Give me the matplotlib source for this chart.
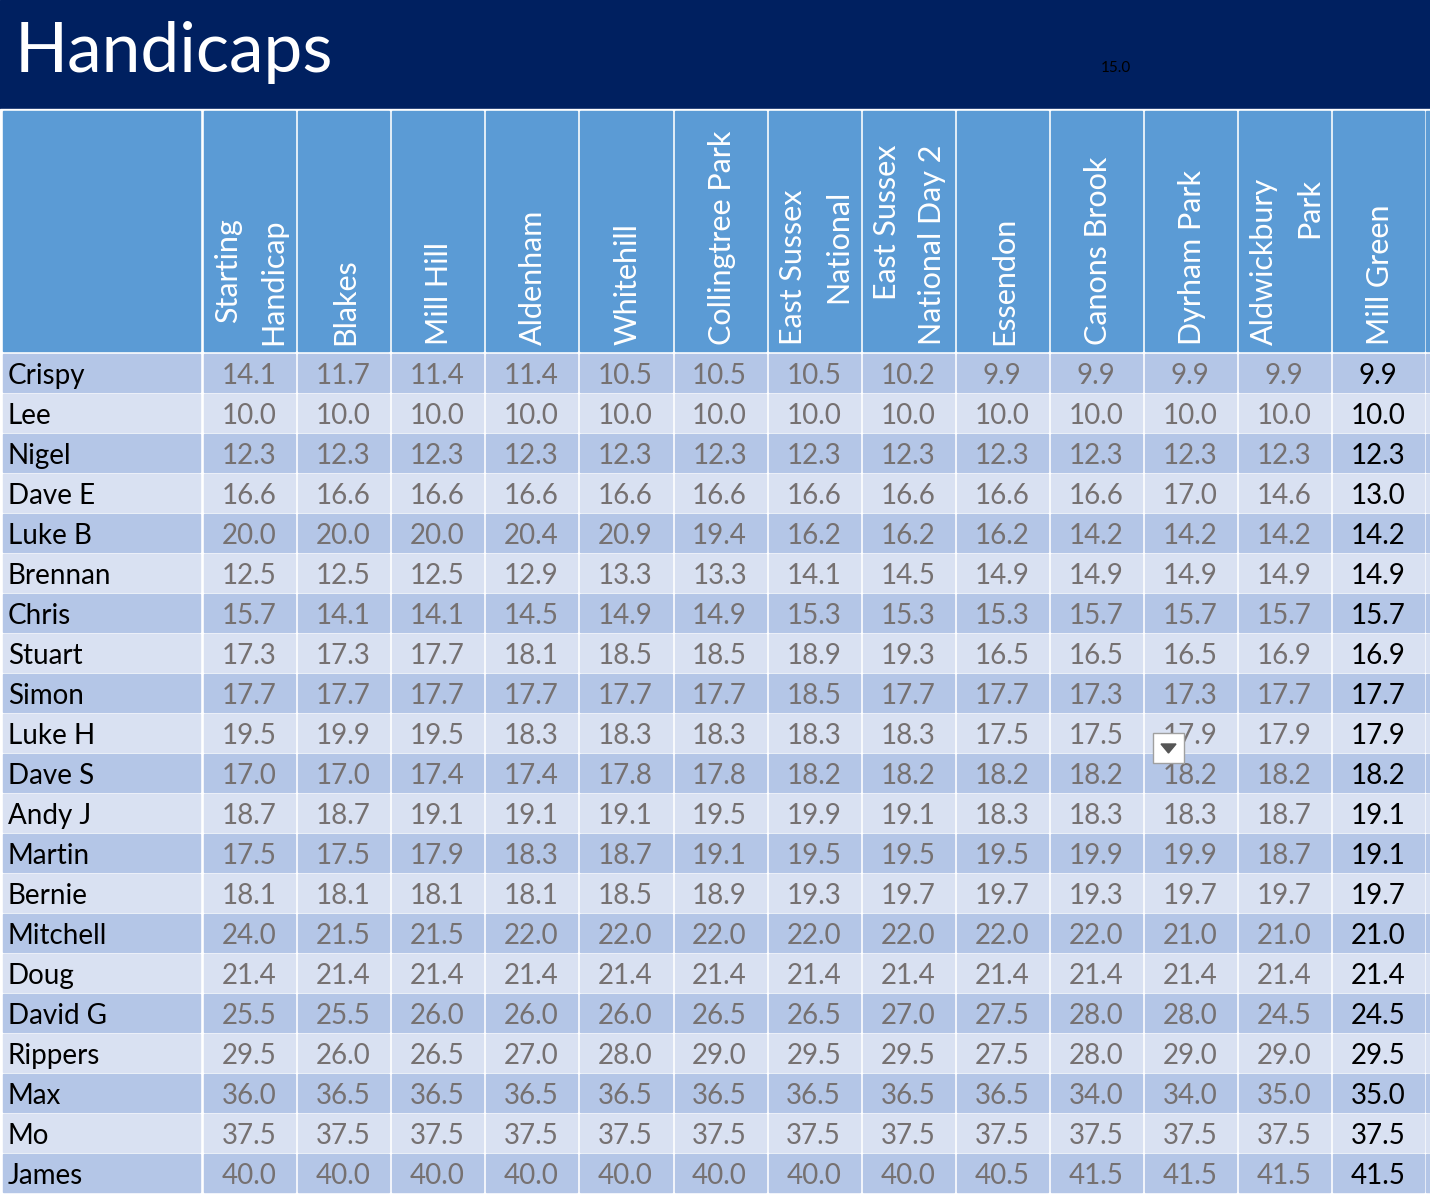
import matplotlib
matplotlib.use('Agg')
import matplotlib.pyplot as plt
from matplotlib.patches import Rectangle, Polygon

plt.rcParams['font.family'] = ['Lato', 'DejaVu Sans']

courses = ['Starting\nHandicap', 'Blakes', 'Mill Hill', 'Aldenham', 'Whitehill', 'Collingtree Park',
           'East Sussex\nNational', 'East Sussex\nNational Day 2', 'Essendon', 'Canons Brook',
           'Dyrham Park', 'Aldwickbury\nPark', 'Mill Green']
players = ['Crispy', 'Lee', 'Nigel', 'Dave E', 'Luke B', 'Brennan', 'Chris', 'Stuart', 'Simon', 'Luke H',
           'Dave S', 'Andy J', 'Martin', 'Bernie', 'Mitchell', 'Doug', 'David G', 'Rippers', 'Max', 'Mo', 'James']
handicaps = [
    [14.1, 11.7, 11.4, 11.4, 10.5, 10.5, 10.5, 10.2, 9.9, 9.9, 9.9, 9.9, 9.9],
    [10.0, 10.0, 10.0, 10.0, 10.0, 10.0, 10.0, 10.0, 10.0, 10.0, 10.0, 10.0, 10.0],
    [12.3, 12.3, 12.3, 12.3, 12.3, 12.3, 12.3, 12.3, 12.3, 12.3, 12.3, 12.3, 12.3],
    [16.6, 16.6, 16.6, 16.6, 16.6, 16.6, 16.6, 16.6, 16.6, 16.6, 17.0, 14.6, 13.0],
    [20.0, 20.0, 20.0, 20.4, 20.9, 19.4, 16.2, 16.2, 16.2, 14.2, 14.2, 14.2, 14.2],
    [12.5, 12.5, 12.5, 12.9, 13.3, 13.3, 14.1, 14.5, 14.9, 14.9, 14.9, 14.9, 14.9],
    [15.7, 14.1, 14.1, 14.5, 14.9, 14.9, 15.3, 15.3, 15.3, 15.7, 15.7, 15.7, 15.7],
    [17.3, 17.3, 17.7, 18.1, 18.5, 18.5, 18.9, 19.3, 16.5, 16.5, 16.5, 16.9, 16.9],
    [17.7, 17.7, 17.7, 17.7, 17.7, 17.7, 18.5, 17.7, 17.7, 17.3, 17.3, 17.7, 17.7],
    [19.5, 19.9, 19.5, 18.3, 18.3, 18.3, 18.3, 18.3, 17.5, 17.5, 17.9, 17.9, 17.9],
    [17.0, 17.0, 17.4, 17.4, 17.8, 17.8, 18.2, 18.2, 18.2, 18.2, 18.2, 18.2, 18.2],
    [18.7, 18.7, 19.1, 19.1, 19.1, 19.5, 19.9, 19.1, 18.3, 18.3, 18.3, 18.7, 19.1],
    [17.5, 17.5, 17.9, 18.3, 18.7, 19.1, 19.5, 19.5, 19.5, 19.9, 19.9, 18.7, 19.1],
    [18.1, 18.1, 18.1, 18.1, 18.5, 18.9, 19.3, 19.7, 19.7, 19.3, 19.7, 19.7, 19.7],
    [24.0, 21.5, 21.5, 22.0, 22.0, 22.0, 22.0, 22.0, 22.0, 22.0, 21.0, 21.0, 21.0],
    [21.4, 21.4, 21.4, 21.4, 21.4, 21.4, 21.4, 21.4, 21.4, 21.4, 21.4, 21.4, 21.4],
    [25.5, 25.5, 26.0, 26.0, 26.0, 26.5, 26.5, 27.0, 27.5, 28.0, 28.0, 24.5, 24.5],
    [29.5, 26.0, 26.5, 27.0, 28.0, 29.0, 29.5, 29.5, 27.5, 28.0, 29.0, 29.0, 29.5],
    [36.0, 36.5, 36.5, 36.5, 36.5, 36.5, 36.5, 36.5, 36.5, 34.0, 34.0, 35.0, 35.0],
    [37.5, 37.5, 37.5, 37.5, 37.5, 37.5, 37.5, 37.5, 37.5, 37.5, 37.5, 37.5, 37.5],
    [40.0, 40.0, 40.0, 40.0, 40.0, 40.0, 40.0, 40.0, 40.5, 41.5, 41.5, 41.5, 41.5],
]

W, H = 1430, 1198
fig = plt.figure(figsize=(W / 100, H / 100), dpi=100)
ax = fig.add_axes([0, 0, 1, 1])
ax.set_xlim(0, W); ax.set_ylim(H, 0); ax.axis('off')

# title bar
ax.add_patch(Rectangle((0, 0), W, 109, color='#002060'))
ax.text(15, 53, 'Handicaps', color='white', fontsize=50, va='center', ha='left')
ax.text(1116, 68, '15.0', color='black', fontsize=11, va='center', ha='center')

name_w, col_w = 199, 94.1
x0 = 3
hdr_top, hdr_h, row_h = 109, 244, 40
col_x = [x0 + name_w + i * col_w for i in range(len(courses))]

ax.add_patch(Rectangle((0, hdr_top), W, H - hdr_top, color='white'))
# header
ax.add_patch(Rectangle((x0, hdr_top + 2), name_w - 2, hdr_h - 4, color='#5B9BD5'))
for i, c in enumerate(courses):
    ax.add_patch(Rectangle((col_x[i] + 2, hdr_top + 2), col_w - 3, hdr_h - 4, color='#5B9BD5'))
    ax.text(col_x[i] + col_w / 2 + 2, hdr_top + hdr_h - 8, c, rotation=90, color='white',
            fontsize=22, ha='center', va='bottom', multialignment='right', linespacing=1.75)

# body
y0 = hdr_top + hdr_h
for r, p in enumerate(players):
    top = y0 + r * row_h
    bg = '#B4C6E7' if r % 2 == 0 else '#D9E1F2'
    ax.add_patch(Rectangle((x0, top + 1), name_w - 2, row_h - 2, color=bg))
    ax.text(x0 + 5, top + row_h / 2 + 3, p, fontsize=20, va='center', ha='left', color='black')
    for i, v in enumerate(handicaps[r]):
        ax.add_patch(Rectangle((col_x[i] + 2, top + 1), col_w - 3, row_h - 2, color=bg))
        last = i == len(courses) - 1
        ax.text(col_x[i] + col_w / 2, top + row_h / 2 + 3, f'{v:.1f}', fontsize=20,
                va='center', ha='center', color='black' if last else '#767171')
    ax.add_patch(Rectangle((col_x[-1] + col_w + 1, top + 1), W, row_h - 2, color=bg))
ax.add_patch(Rectangle((col_x[-1] + col_w + 1, hdr_top + 2), W, hdr_h - 4, color='#5B9BD5'))

# dropdown button over Dyrham Park / Luke H
bx, by = col_x[10] + 10, y0 + 9 * row_h + 20
ax.add_patch(Rectangle((bx, by), 31, 30, facecolor='white', edgecolor='#A0A0A0', lw=1, zorder=5))
ax.add_patch(Polygon([(bx + 8, by + 11), (bx + 23, by + 11), (bx + 15.5, by + 20)],
                     color='#555555', zorder=6))

fig.savefig('out.png', dpi=100)
